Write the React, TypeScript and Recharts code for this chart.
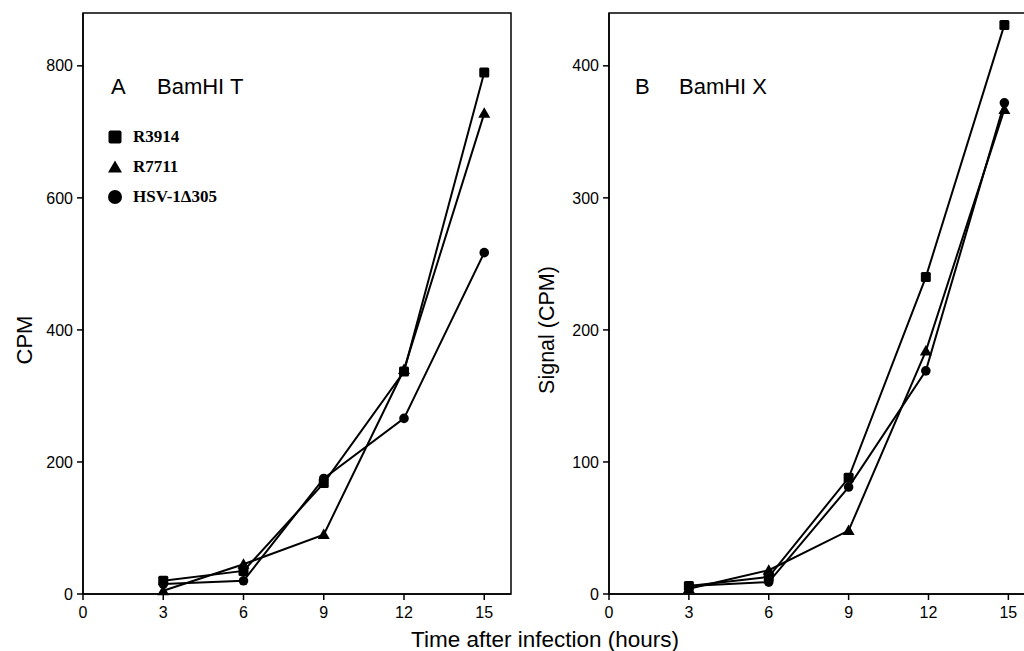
import { LineChart, Line, XAxis, YAxis, ReferenceArea } from 'recharts';

// time points (hours post infection)
const hoursA = [3, 6, 9, 12, 15];
const hoursB = [3, 6, 9, 11.9, 14.85];

// panel A - BamHI T
const r3914A = [20, 35, 168, 337, 790];
const r7711A = [5, 45, 90, 340, 728];
const hsvA = [15, 20, 175, 266, 517];

// panel B - BamHI X
const r3914B = [6, 13, 88, 240, 431];
const r7711B = [4, 18, 48, 184, 367];
const hsvB = [6, 9, 81, 169, 372];

const seriesNames = ['R3914', 'R7711', 'HSV-1\u0394305'];
const xTicks = [0, 3, 6, 9, 12, 15];
const yTicksA = [0, 200, 400, 600, 800];
const yTicksB = [0, 100, 200, 300, 400];

const sans = 'Liberation Sans, Arial, sans-serif';
const serif = 'Liberation Serif, Times New Roman, serif';

const buildRows = (hours: number[], a: number[], b: number[], c: number[]) =>
  hours.map((h, i) => ({ hour: h, r3914: a[i], r7711: b[i], hsv: c[i] }));

const dataA = buildRows(hoursA, r3914A, r7711A, hsvA);
const dataB = buildRows(hoursB, r3914B, r7711B, hsvB);

const SquareDot = (p: any) => (
  <rect key={`sq-${p.index}`} x={p.cx - 5} y={p.cy - 5} width={10} height={10} rx={1.5} fill="#000" />
);
const TriangleDot = (p: any) => (
  <polygon
    key={`tr-${p.index}`}
    points={`${p.cx},${p.cy - 6} ${p.cx - 6},${p.cy + 4.5} ${p.cx + 6},${p.cy + 4.5}`}
    fill="#000"
  />
);
const CircleDot = (p: any) => <circle key={`ci-${p.index}`} cx={p.cx} cy={p.cy} r={4.8} fill="#000" />;

function LegendBox() {
  const icons = [
    <rect key="s" x={0.5} y={0.5} width={13} height={13} rx={2} fill="#000" />,
    <polygon key="t" points="7,0.5 0,12.5 14,12.5" fill="#000" />,
    <circle key="c" cx={7} cy={7} r={7} fill="#000" />,
  ];
  return (
    <div style={{ fontFamily: serif, fontWeight: 'bold', fontSize: 17 }}>
      {seriesNames.map((n, i) => (
        <div key={n} style={{ display: 'flex', alignItems: 'center', height: 30 }}>
          <svg width={14} height={14} style={{ marginRight: 11 }}>{icons[i]}</svg>
          <span>{n}</span>
        </div>
      ))}
    </div>
  );
}

const tickStyle = { fontSize: 16, fontFamily: sans, fill: '#000' };

function Panel({ data, yMax, yTicks, width, yWidth, right }: any) {
  return (
    <LineChart width={width} height={651} data={data} margin={{ top: 13, right, left: 0, bottom: 0 }}>
      <XAxis
        dataKey="hour"
        type="number"
        domain={[0, 16]}
        ticks={xTicks}
        stroke="#000"
        strokeWidth={1.5}
        tickSize={6}
        tickMargin={7}
        height={57}
        tick={tickStyle}
      />
      <YAxis
        type="number"
        domain={[0, yMax]}
        ticks={yTicks}
        stroke="#000"
        strokeWidth={1.5}
        tickSize={6}
        tickMargin={4}
        width={yWidth}
        tick={tickStyle}
      />
      <ReferenceArea x1={0} x2={16} y1={0} y2={yMax} fill="none" stroke="#000" strokeWidth={1.5} ifOverflow="visible" />
      <Line dataKey="r3914" stroke="#000" strokeWidth={2} dot={SquareDot} isAnimationActive={false} />
      <Line dataKey="r7711" stroke="#000" strokeWidth={2} dot={TriangleDot} isAnimationActive={false} />
      <Line dataKey="hsv" stroke="#000" strokeWidth={2} dot={CircleDot} isAnimationActive={false} />
    </LineChart>
  );
}

export default function App() {
  const abs = (x: number, y: number): any => ({ position: 'absolute', left: x, top: y });
  const centered = (x: number, y: number, size: number, rotate = false): any => ({
    ...abs(x, y),
    fontSize: size,
    transform: `translate(-50%, -50%)${rotate ? ' rotate(-90deg)' : ''}`,
    whiteSpace: 'nowrap',
    lineHeight: 1,
  });
  return (
    <div
      style={{
        position: 'absolute',
        left: 0,
        top: 0,
        width: 1024,
        height: 651,
        overflow: 'hidden',
        background: '#fff',
        fontFamily: sans,
      }}
    >
      <div style={abs(0, 0)}>
        <Panel data={dataA} yMax={880} yTicks={yTicksA} width={520} yWidth={83} right={9} />
      </div>
      <div style={abs(520, 0)}>
        <Panel data={dataB} yMax={440} yTicks={yTicksB} width={530} yWidth={89} right={15} />
      </div>

      <div style={abs(108, 122)}>
        <LegendBox />
      </div>

      <div style={{ ...abs(111, 76), fontSize: 22, lineHeight: 1 }}>A</div>
      <div style={{ ...abs(157, 76), fontSize: 22, lineHeight: 1 }}>BamHI T</div>
      <div style={{ ...abs(635, 76), fontSize: 22, lineHeight: 1 }}>B</div>
      <div style={{ ...abs(679, 76), fontSize: 22, lineHeight: 1 }}>BamHI X</div>

      <div style={centered(25, 340, 22, true)}>CPM</div>
      <div style={centered(548, 330, 21.5, true)}>Signal (CPM)</div>
      <div style={centered(545, 640, 22.5)}>Time after infection (hours)</div>
    </div>
  );
}
